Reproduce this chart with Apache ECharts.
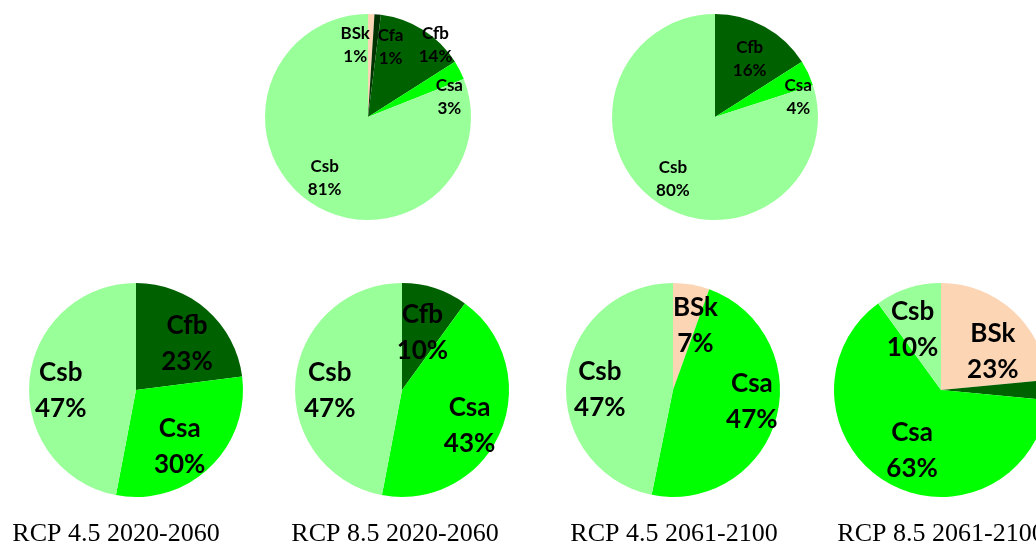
<!DOCTYPE html>
<html>
<head>
<meta charset="utf-8">
<script src="https://cdn.jsdelivr.net/npm/echarts@6/dist/echarts.min.js"></script>
<style>
html,body{margin:0;padding:0;background:#fff;}
#chart{width:1036px;height:549px;}
</style>
</head>
<body>
<div id="chart"></div>
<script>
// ---- data ----
const baselineObsCats = ['BSk', 'Cfa', 'Cfb', 'Csa', 'Csb'];
const baselineObsVals = [1, 1, 14, 3, 81];
const baselineObsPct = ['1%', '1%', '14%', '3%', '81%'];

const baselineModCats = ['Cfb', 'Csa', 'Csb'];
const baselineModVals = [16, 4, 80];
const baselineModPct = ['16%', '4%', '80%'];

const rcp45EarlyCats = ['Cfb', 'Csa', 'Csb'];
const rcp45EarlyVals = [23, 30, 47];
const rcp45EarlyPct = ['23%', '30%', '47%'];

const rcp85EarlyCats = ['Cfb', 'Csa', 'Csb'];
const rcp85EarlyVals = [10, 43, 47];
const rcp85EarlyPct = ['10%', '43%', '47%'];

const rcp45LateCats = ['BSk', 'Csa', 'Csb'];
const rcp45LateVals = [5.5, 47.7, 46.8];
const rcp45LatePct = ['7%', '47%', '47%'];

const rcp85LateCats = ['BSk', 'Cfb', 'Csa', 'Csb'];
const rcp85LateVals = [23.5, 3, 63.5, 10];
const rcp85LatePct = ['23%', '4%', '63%', '10%'];

const periodTitles = ['RCP 4.5 2020-2060', 'RCP 8.5 2020-2060', 'RCP 4.5 2061-2100', 'RCP 8.5 2061-2100'];

// ---- styles / layout ----
const classColors = {
  BSk: '#FCD5B5',
  Cfa: '#003300',
  Cfb: '#006100',
  Csa: '#00FF00',
  Csb: '#99FF99'
};

const pies = [
  { cats: baselineObsCats, vals: baselineObsVals, pct: baselineObsPct, center: [368, 117], r: 103, font: 17, lh: 23,
    shift: { BSk: [-15, -2], Cfa: [16, 0], Cfb: [30, -13], Csa: [19, 12], Csb: [-4, 3] } },
  { cats: baselineModCats, vals: baselineModVals, pct: baselineModPct, center: [715, 117], r: 103, font: 17, lh: 23,
    shift: { Cfb: [1, 3], Csa: [20, 10], Csb: [-1, 5] } },
  { cats: rcp45EarlyCats, vals: rcp45EarlyVals, pct: rcp45EarlyPct, center: [136, 390], r: 107, font: 26, lh: 36,
    shift: { Cfb: [3, 8], Csa: [-6, 4], Csb: [-3, 7] } },
  { cats: rcp85EarlyCats, vals: rcp85EarlyVals, pct: rcp85EarlyPct, center: [402, 390], r: 107, font: 26, lh: 36,
    shift: { Cfb: [-2, 12], Csa: [1, 7], Csb: [0, 7] } },
  { cats: rcp45LateCats, vals: rcp45LateVals, pct: rcp45LatePct, center: [673, 390], r: 107, font: 26, lh: 36,
    shift: { BSk: [10, 7], Csa: [9, -8], Csb: [-1, 7] } },
  { cats: rcp85LateCats, vals: rcp85LateVals, pct: rcp85LatePct, center: [941, 390], r: 107, font: 26, lh: 36,
    shift: { BSk: [3, 15], Csa: [7, -2], Csb: [-6, 9] }, hide: ['Cfb'] }
];

const titleCenters = [116, 395, 674, 941];

const series = [];
pies.forEach(function (p) {
  const data = p.cats.map(function (c, i) {
    return { name: c, value: p.vals[i], itemStyle: { color: classColors[c] } };
  });
  series.push({
    type: 'pie',
    center: p.center,
    radius: p.r,
    startAngle: 90,
    clockwise: true,
    silent: true,
    animation: false,
    avoidLabelOverlap: false,
    label: { show: false },
    labelLine: { show: false },
    emphasis: { disabled: true },
    itemStyle: { borderWidth: 0 },
    data: data
  });
  const labelData = p.cats.map(function (c, i) {
    const d = { name: c, value: p.vals[i], itemStyle: { color: 'rgba(0,0,0,0)' } };
    if (p.hide && p.hide.indexOf(c) >= 0) d.label = { show: false };
    return d;
  });
  series.push({
    type: 'pie',
    center: p.center,
    radius: [p.r * 0.3, p.r],
    startAngle: 90,
    clockwise: true,
    silent: true,
    animation: false,
    avoidLabelOverlap: false,
    emphasis: { disabled: true },
    itemStyle: { borderWidth: 0 },
    label: {
      show: true,
      position: 'inside',
      color: '#000',
      fontFamily: 'Lato',
      fontWeight: 'bold',
      fontSize: p.font,
      lineHeight: p.lh,
      align: 'center',
      formatter: function (prm) { return prm.name + '\n' + p.pct[prm.dataIndex]; }
    },
    labelLine: { show: false },
    labelLayout: function (prm) {
      const s = p.shift[p.cats[prm.dataIndex]] || [0, 0];
      return { dx: s[0], dy: s[1] };
    },
    data: labelData
  });
});

const titles = periodTitles.map(function (t, i) {
  return {
    text: t,
    left: titleCenters[i],
    top: 521,
    textAlign: 'center',
    padding: 0,
    textStyle: { fontFamily: 'Liberation Serif', fontWeight: 'normal', fontSize: 26, color: '#000' }
  };
});

const chart = echarts.init(document.getElementById('chart'), null, { renderer: 'canvas' });
chart.setOption({
  backgroundColor: '#fff',
  animation: false,
  title: titles,
  series: series
});
</script>
</body>
</html>
